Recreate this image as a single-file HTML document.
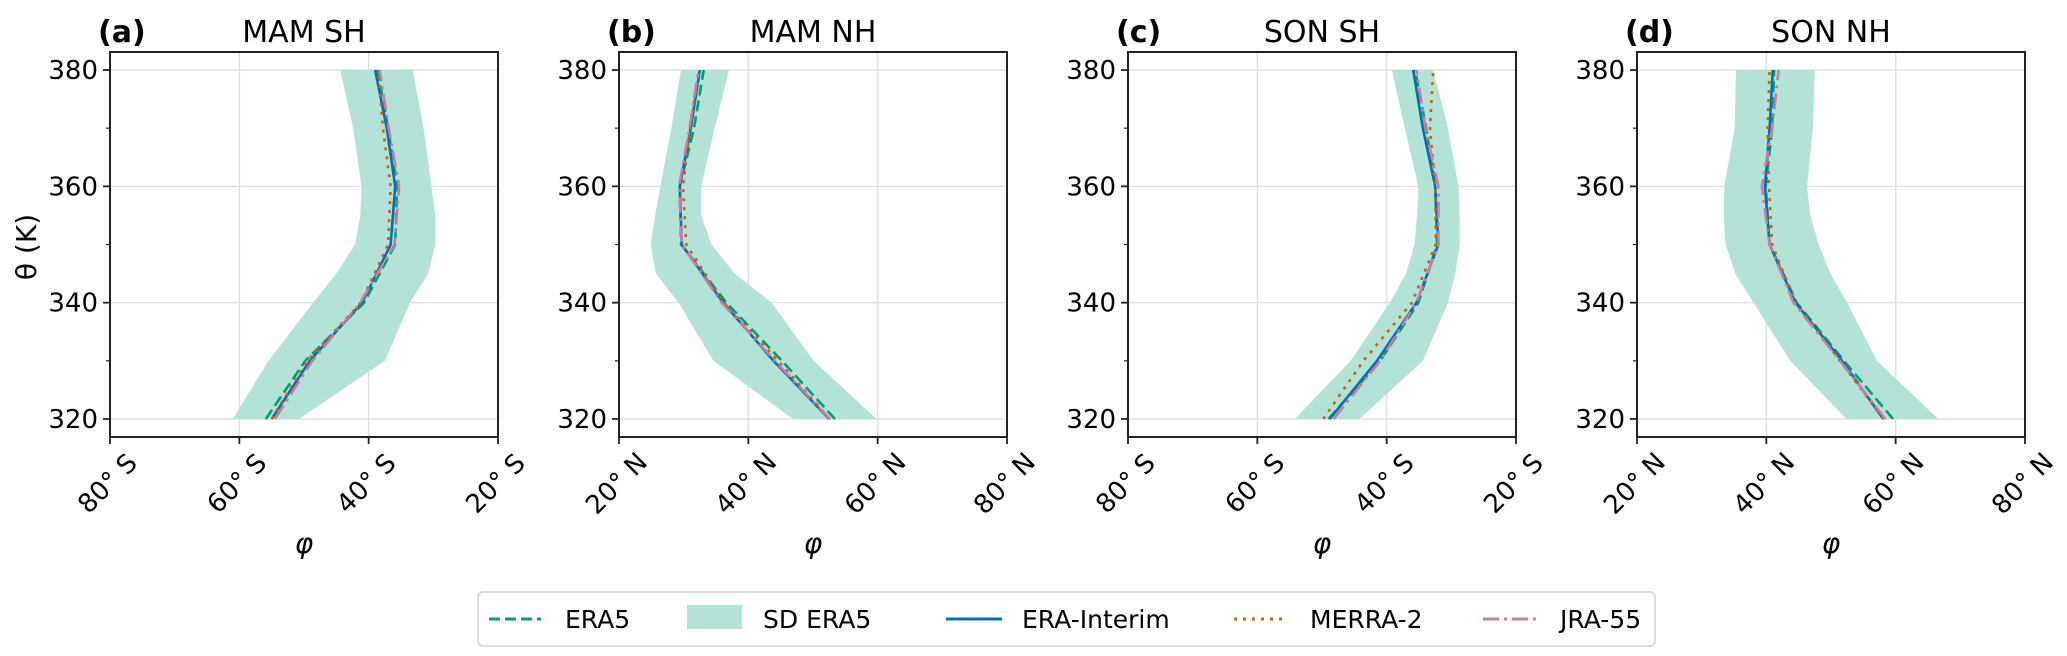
<!DOCTYPE html>
<html><head><meta charset="utf-8"><style>
html,body{margin:0;padding:0;background:#fff;}
svg{display:block;font-family:"DejaVu Sans","Liberation Sans",sans-serif;}
</style></head><body>
<svg id="fig" width="2067" height="656" viewBox="0 0 2067 656">
<g id="panels"></g>
<g>
<rect x="478" y="592" width="1177" height="54" rx="5" fill="#fff" stroke="#d0d0d0" stroke-width="1.5"/>
<g><line x1="489" y1="619" x2="541" y2="619" stroke="#009e73" stroke-width="3" stroke-dasharray="11,5"/><text x="565" y="628" font-size="25">ERA5</text></g>
<g><rect x="687" y="605" width="55" height="24" fill="#b3e3d6"/><text x="763" y="628" font-size="25">SD ERA5</text></g>
<g><line x1="946" y1="619" x2="1002" y2="619" stroke="#0072b2" stroke-width="3"/><text x="1022" y="628" font-size="25">ERA-Interim</text></g>
<g><line x1="1234" y1="619" x2="1285" y2="619" stroke="#d55e00" stroke-width="3" stroke-dasharray="3,6"/><text x="1310" y="628" font-size="25">MERRA-2</text></g>
<g><line x1="1483" y1="619" x2="1537" y2="619" stroke="#cc79a7" stroke-width="3" stroke-dasharray="16,5,3,5"/><text x="1560" y="628" font-size="25">JRA-55</text></g>
</g>
</svg>
<script>
// Shared levels
const thetaLines = [320, 330, 340, 350, 360, 370, 380];
const thetaBand = [320, 330, 340, 345, 350, 355, 360, 370, 380];
const yTicks = [320, 340, 360, 380];
const yMinor = [330, 350, 370];
const panelTitles = ["MAM SH", "MAM NH", "SON SH", "SON NH"];
const panelLetters = ["(a)", "(b)", "(c)", "(d)"];
const xTicksSH = [-80, -60, -40, -20];
const xTicksNH = [20, 40, 60, 80];
const xTickLabelsSH = ["80° S", "60° S", "40° S", "20° S"];
const xTickLabelsNH = ["20° N", "40° N", "60° N", "80° N"];
// Panel a (MAM SH)
const aERA5 = [-55.9, -49.8, -40.7, -35.9, -35.6, -37.0, -38.6];
const aERAI = [-55.0, -49.1, -41.0, -36.6, -35.9, -37.2, -39.0];
const aMERRA = [-55.0, -49.5, -41.2, -37.0, -36.6, -37.8, -38.5];
const aJRA = [-54.5, -48.7, -41.3, -36.0, -35.3, -36.9, -38.3];
const aBandLo = [-61.0, -55.5, -48.6, -45.0, -42.1, -41.3, -41.1, -42.4, -44.4];
const aBandHi = [-50.8, -37.5, -33.6, -30.8, -29.7, -29.7, -30.3, -31.5, -33.2];
// Panel b (MAM NH)
const bERA5 = [53.4, 45.2, 36.6, 29.6, 29.4, 31.6, 33.1];
const bERAI = [52.5, 43.9, 36.1, 29.7, 29.4, 31.1, 32.5];
const bMERRA = [52.6, 44.6, 36.2, 30.4, 29.9, 31.0, 32.4];
const bJRA = [52.6, 44.1, 35.9, 29.7, 29.3, 30.9, 32.3];
const bBandLo = [46.9, 34.6, 29.2, 25.7, 24.9, 25.6, 26.4, 28.1, 29.6];
const bBandHi = [59.8, 50.1, 43.6, 37.9, 34.3, 32.7, 32.7, 34.8, 37.0];
// Panel c (SON SH)
const cERA5 = [-49.0, -41.0, -35.1, -32.2, -32.5, -33.9, -35.6];
const cERAI = [-48.8, -41.5, -35.4, -32.0, -32.5, -34.4, -35.9];
const cMERRA = [-49.8, -43.6, -36.1, -32.4, -32.5, -33.3, -32.8];
const cJRA = [-48.2, -41.0, -35.4, -32.0, -32.0, -34.0, -35.4];
const cBandLo = [-54.2, -45.6, -39.5, -37.0, -35.7, -35.3, -35.1, -37.2, -39.2];
const cBandHi = [-44.2, -34.4, -30.5, -29.4, -28.7, -28.7, -28.9, -30.5, -32.8];
// Panel d (SON NH)
const dERA5 = [59.6, 52.0, 44.7, 40.5, 39.9, 40.9, 41.2];
const dERAI = [58.1, 51.7, 44.5, 40.5, 39.8, 40.5, 41.0];
const dMERRA = [58.1, 51.4, 44.5, 40.9, 40.4, 40.2, 40.5];
const dJRA = [58.4, 51.4, 44.2, 40.5, 39.3, 40.9, 41.9];
const dBandLo = [52.4, 43.7, 38.0, 35.2, 33.7, 33.4, 33.5, 35.1, 35.3];
const dBandHi = [66.6, 57.1, 52.5, 49.9, 48.1, 46.8, 46.3, 47.2, 47.5];

const NS = "http://www.w3.org/2000/svg";
const root = document.getElementById("panels");
function mk(tag, attrs, parent) {
  const e = document.createElementNS(NS, tag);
  for (const k in attrs) e.setAttribute(k, attrs[k]);
  parent.appendChild(e);
  return e;
}
const panels = [
  {left:110, xmin:-80, xmax:-20, ticks:xTicksSH, tl:xTickLabelsSH, era5:aERA5, erai:aERAI, merra:aMERRA, jra:aJRA, lo:aBandLo, hi:aBandHi},
  {left:619, xmin:20, xmax:80, ticks:xTicksNH, tl:xTickLabelsNH, era5:bERA5, erai:bERAI, merra:bMERRA, jra:bJRA, lo:bBandLo, hi:bBandHi},
  {left:1128, xmin:-80, xmax:-20, ticks:xTicksSH, tl:xTickLabelsSH, era5:cERA5, erai:cERAI, merra:cMERRA, jra:cJRA, lo:cBandLo, hi:cBandHi},
  {left:1637, xmin:20, xmax:80, ticks:xTicksNH, tl:xTickLabelsNH, era5:dERA5, erai:dERAI, merra:dMERRA, jra:dJRA, lo:dBandLo, hi:dBandHi}
];
const W = 388, TOP = 52, BOT = 437, YMIN = 316.9, YMAX = 383.1;
const yS = v => BOT - (v - YMIN) / (YMAX - YMIN) * (BOT - TOP);
const letterNames = ["a","b","c","d"];
panels.forEach((p, i) => {
  const xS = v => p.left + (v - p.xmin) / (p.xmax - p.xmin) * W;
  const g = mk("g", {}, root);
  
  
  // grid
  p.ticks.forEach(t => {
    const l = mk("line", {x1:xS(t), x2:xS(t), y1:TOP, y2:BOT, stroke:"#e0e0e0", "stroke-width":1.5}, g);
    
    
  });
  yTicks.forEach(t => {
    const l = mk("line", {x1:p.left, x2:p.left+W, y1:yS(t), y2:yS(t), stroke:"#e0e0e0", "stroke-width":1.5}, g);
    
    
  });
  // band
  let pts = thetaBand.map((t, k) => xS(p.lo[k]) + "," + yS(t));
  for (let k = thetaBand.length - 1; k >= 0; k--) pts.push(xS(p.hi[k]) + "," + yS(thetaBand[k]));
  const band = mk("polygon", {points:pts.join(" "), fill:"#b3e3d6"}, g);
  
  
  const series = [
    {d:p.era5, c:"#009e73", da:"11,5", n:"era5-line"},
    {d:p.erai, c:"#0072b2", da:"", n:"era-interim-line"},
    {d:p.merra, c:"#d55e00", da:"3,6", n:"merra-2-line"},
    {d:p.jra, c:"#cc79a7", da:"16,5,3,5", n:"jra-55-line"}
  ];
  series.forEach(s => {
    const a = {points:thetaLines.map((t,k)=>xS(s.d[k])+","+yS(t)).join(" "), fill:"none", stroke:s.c, "stroke-width":2.6};
    if (s.da) a["stroke-dasharray"] = s.da;
    const l = mk("polyline", a, g);
    
    
  });
  // frame
  const fr = mk("rect", {x:p.left, y:TOP, width:W, height:BOT-TOP, fill:"none", stroke:"#222", "stroke-width":2}, g);
  
  
  // y ticks
  yTicks.forEach(t => {
    mk("line", {x1:p.left-7, x2:p.left, y1:yS(t), y2:yS(t), stroke:"#222", "stroke-width":1.8}, g);
    const tx = mk("text", {x:p.left-12, y:yS(t)+9, "font-size":26, "text-anchor":"end"}, g);
    tx.textContent = t;
    
    
  });
  yMinor.forEach(t => mk("line", {x1:p.left-4, x2:p.left, y1:yS(t), y2:yS(t), stroke:"#222", "stroke-width":1.2}, g));
  // x ticks
  p.ticks.forEach((t, k) => {
    mk("line", {x1:xS(t), x2:xS(t), y1:BOT, y2:BOT+7, stroke:"#222", "stroke-width":1.8}, g);
    const cx = xS(t) - 2, cy = 484;
    const tx = mk("text", {x:cx, y:cy, "font-size":26, "text-anchor":"middle", "dominant-baseline":"central", transform:"rotate(-45 "+cx+" "+cy+")"}, g);
    tx.textContent = p.tl[k];
    
    
  });
  // x axis title
  const xt = mk("text", {x:p.left+W/2, y:553, "font-size":28, "font-style":"italic", "text-anchor":"middle"}, g);
  xt.textContent = "φ";
  
  
  // titles
  const tt = mk("text", {x:p.left+W/2, y:42, "font-size":30, "text-anchor":"middle"}, g);
  tt.textContent = panelTitles[i];
  
  
  const lt = mk("text", {x:p.left-12, y:42, "font-size":30, "font-weight":"bold"}, g);
  lt.textContent = panelLetters[i];
  
  
});
const yl = mk("text", {x:36, y:247, "font-size":28, "text-anchor":"middle", transform:"rotate(-90 36 247)"}, root);
yl.textContent = "θ (K)";


</script>
</body></html>
